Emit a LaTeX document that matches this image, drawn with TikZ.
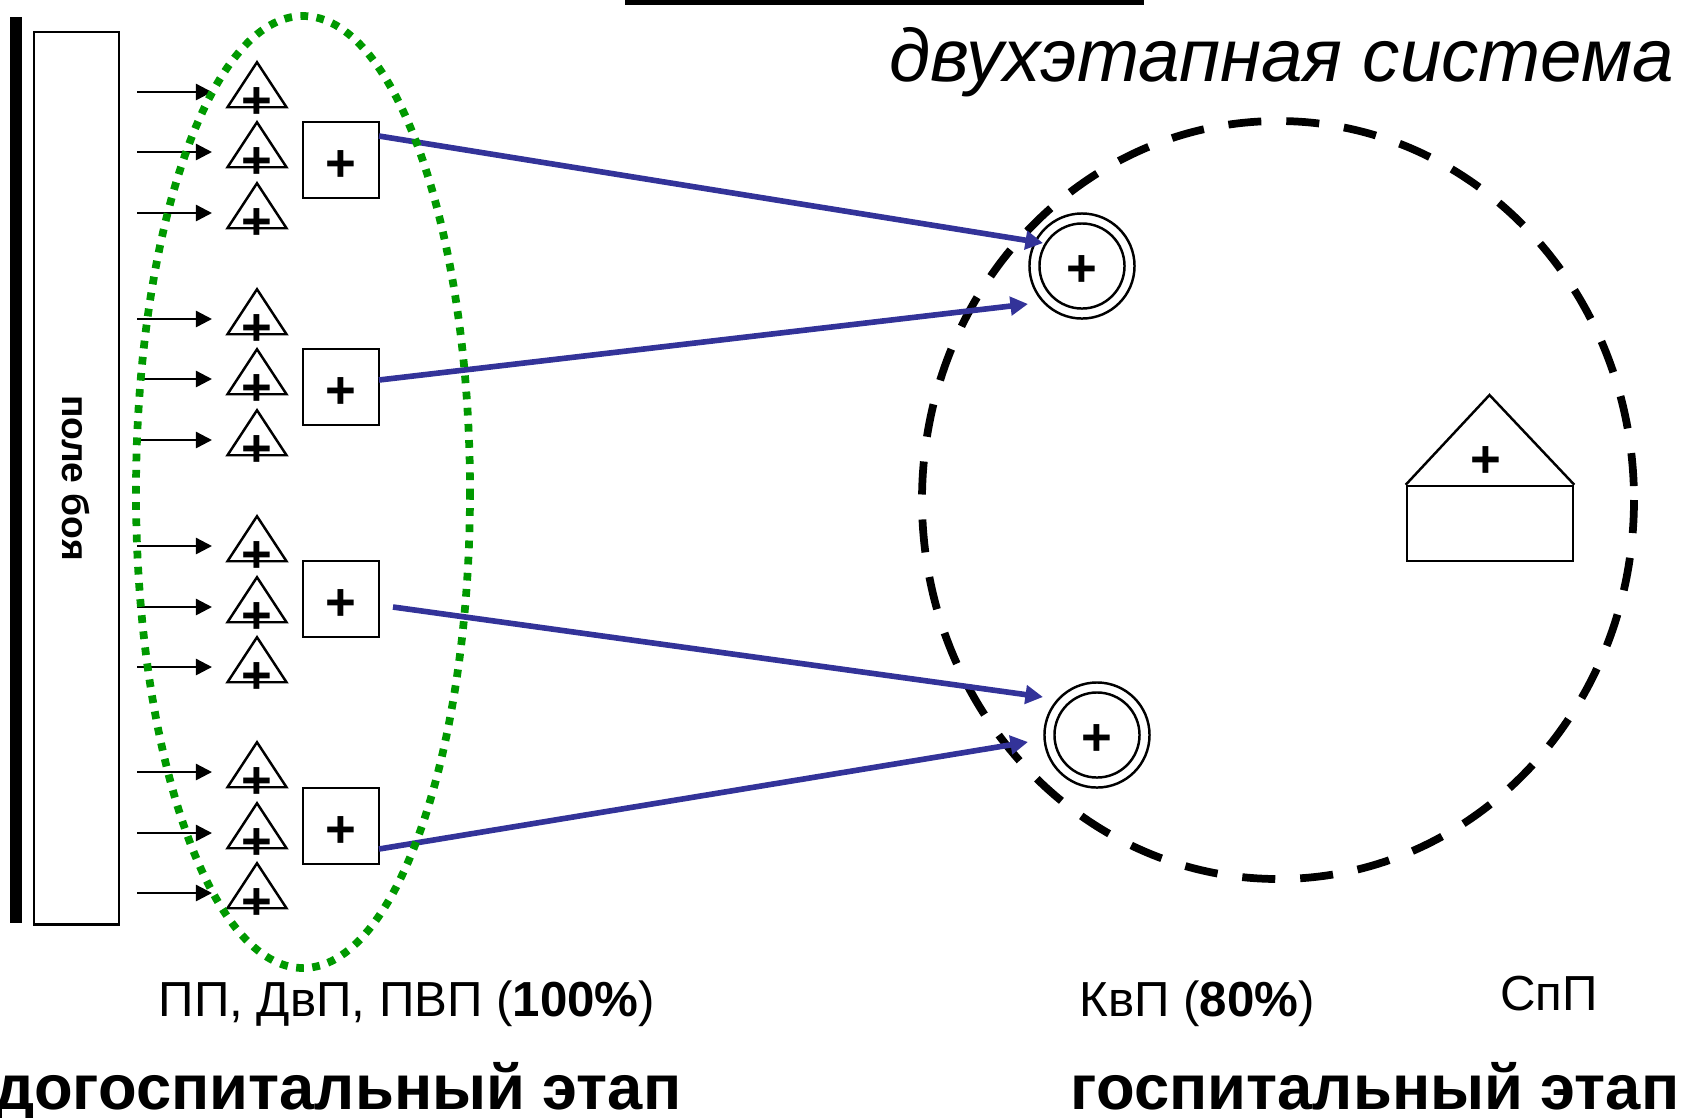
\documentclass[tikz,border=0pt]{standalone}
\usepackage{fontspec}
\setmainfont{Liberation Sans}
\usetikzlibrary{shapes.geometric,arrows.meta}
\tikzset{
    blackbox/.style={draw,line width=0.7pt,inner sep=0pt},
    tribox/.style={blackbox,isosceles triangle,isosceles triangle stretches,shape border rotate=90,minimum width=0.59cm,minimum height=0.45cm,anchor=apex},
    sqbox/.style={blackbox,minimum size=0.76cm},
    plusmark/.style={inner sep=0pt,font=\fontsize{15}{15}\selectfont\bfseries},
    ringbox/.style={blackbox,circle},
    feed/.style={-{Triangle[length=4.6pt,width=4.6pt]},line width=0.7pt},
    route/.style={-{Triangle[length=5pt,width=5.2pt]},line width=1.6pt,color=routeblue},
    caption/.style={inner sep=0pt,anchor=base,font=\fontsize{14}{14}\selectfont},
    stage/.style={inner sep=0pt,anchor=base,font=\fontsize{18}{18}\selectfont\bfseries}
}
\definecolor{routeblue}{RGB}{51,51,153}
\definecolor{zonegreen}{RGB}{0,153,0}
\begin{document}
\begin{tikzpicture}[x=0.01cm,y=-0.01cm]
    \useasboundingbox (0,0) rectangle (1681,1117);
    \fill (625,0) rectangle (1144,5);
    \fill (10,17) rectangle (22,923);
    \node[blackbox,minimum width=0.85cm,minimum height=8.92cm] (field) at (76.5,478) {};
    \node[inner sep=0pt,rotate=-90,font=\fontsize{10.6}{11}\selectfont\bfseries] (fieldname) at (75.5,478) {поле боя};
    % wounded
    \foreach \i/\y in {1/92,2/152,3/213,4/319,5/379,6/440,7/546,8/607,9/667,10/772,11/833,12/893} {
        \coordinate (from\i) at (137,\y);
        \coordinate (to\i) at (212,\y);
        \draw[feed] (from\i) -- (to\i);
        \node[tribox] (tri\i) at (257,\y-33) {};
        \node[plusmark] (triplus\i) at (257,\y+11) {+};
    }
    % aid posts
    \node[sqbox] (post1) at (341,160) {};
    \node[sqbox] (post2) at (341,387) {};
    \node[sqbox] (post3) at (341,599) {};
    \node[sqbox] (post4) at (341,826) {};
    \node[plusmark] (postplus1) at (341,166) {+};
    \node[plusmark] (postplus2) at (341,393) {+};
    \node[plusmark] (postplus3) at (341,605) {+};
    \node[plusmark] (postplus4) at (341,832) {+};
    % hospital zone
    \draw[line width=2.2pt,dash pattern=on 9.4pt off 7.1pt] (1278,500) ellipse (356 and 379);
    \node[ringbox,minimum size=1.05cm] (ward1) at (1082,266) {};
    \node[ringbox,minimum size=0.85cm] (ward1in) at (1082,266) {};
    \node[plusmark] (wardplus1) at (1082,271) {+};
    \node[ringbox,minimum size=1.05cm] (ward2) at (1097,735) {};
    \node[ringbox,minimum size=0.85cm] (ward2in) at (1097,735) {};
    \node[plusmark] (wardplus2) at (1097,740) {+};
    \node[blackbox,minimum width=1.66cm,minimum height=0.75cm] (house) at (1490,523.5) {};
    \coordinate (roof) at (1489.5,395);
    \draw[line width=0.7pt] (house.north west) -- (roof) -- (house.north east);
    \node[plusmark] (houseplus) at (1486,462) {+};
    % routes
    \coordinate (r1a) at (379,136);
    \coordinate (r1b) at (1043,243);
    \coordinate (r2a) at (379,380);
    \coordinate (r2b) at (1028,304);
    \coordinate (r3a) at (393,607);
    \coordinate (r3b) at (1043,697);
    \coordinate (r4a) at (379,849);
    \coordinate (r4b) at (1028,742);
    \foreach \i in {1,2,3,4} \draw[route] (r\i a) -- (r\i b);
    \draw[zonegreen,line width=2.2pt,dash pattern=on 2.2pt off 2.4pt] (303,492) ellipse (167 and 476);
    % labels
    \node[inner sep=0pt,anchor=base east,font=\fontsize{21.2}{22}\selectfont\itshape] (title) at (1675,81) {двухэтапная система};
    \node[caption] (frontlabel) at (407,1016) {ПП, ДвП, ПВП (\textbf{100\%})};
    \node[caption] (wardlabel) at (1197,1016) {КвП (\textbf{80\%})};
    \node[caption] (speclabel) at (1549,1010) {СпП};
    \node[stage,anchor=base east] (prestage) at (682,1109) {догоспитальный этап};
    \node[stage,anchor=base east] (hospstage) at (1680,1109) {госпитальный этап};
\end{tikzpicture}
\end{document}
